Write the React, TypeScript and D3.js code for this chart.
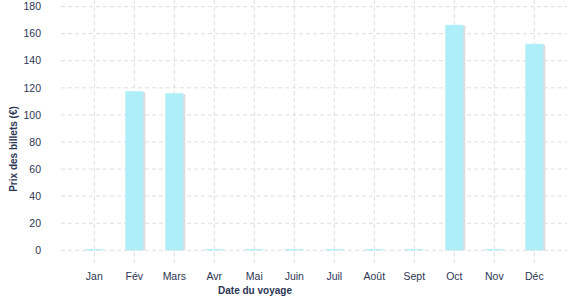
import React from "react";
import * as d3 from "d3";

const months = ["Jan", "Fév", "Mars", "Avr", "Mai", "Juin", "Juil", "Août", "Sept", "Oct", "Nov", "Déc"];
const prices = [0, 117.5, 116, 0, 0, 0, 0, 0, 0, 166.5, 0, 152.5];
const yTicks = [0, 20, 40, 60, 80, 100, 120, 140, 160, 180];

const W = 577;
const H = 300;
const textColor = "#2b3553";

export default function App() {
  const x = d3.scaleBand<string>().domain(months).range([74.3, 554.3]).paddingInner(0.55).paddingOuter(0.275);
  const step = x.step();
  const y = d3.scaleLinear().domain([0, 180]).range([250.3, 6.6]);
  const font = "'Liberation Sans', Arial, sans-serif";
  return (
    <svg width={W} height={H} style={{ position: "absolute", left: 0, top: 0 }} fontFamily={font}>
      {yTicks.map((t) => (
        <g key={t}>
          <line x1={61} x2={567} y1={y(t)} y2={y(t)} stroke="#dedede" strokeDasharray="4,3" />
          <text x={41} y={y(t)} dy="0.35em" textAnchor="end" fontSize={10.5} fill={textColor}>
            {t}
          </text>
        </g>
      ))}
      {months.map((m) => {
        const cx = (x(m) as number) + x.bandwidth() / 2;
        return (
          <g key={m}>
            <line x1={cx} x2={cx} y1={0} y2={263} stroke="#dedede" strokeDasharray="4,3" />
            <text x={cx} y={276} dy="0.35em" textAnchor="middle" fontSize={10.5} fill={textColor}>
              {m}
            </text>
          </g>
        );
      })}
      {months.map((m, i) => {
        const bx = (x(m) as number) + x.bandwidth() / 2 - 9;
        const top = Math.min(y(prices[i]), y(0) - 1.2);
        const h = y(0) - top;
        return (
          <g key={"b" + m}>
            {prices[i] > 0 && <rect x={bx + 2} y={top + 1} width={18} height={h - 1} fill="#dcdcdc" />}
            <rect x={bx} y={top} width={18} height={h} fill="#aeeef8" />
          </g>
        );
      })}
      <text
        transform={`translate(17,149) rotate(-90)`}
        textAnchor="middle"
        fontSize={10}
        fontWeight="bold"
        fill={textColor}
      >
        Prix des billets (€)
      </text>
      <text x={255} y={294} textAnchor="middle" fontSize={10} fontWeight="bold" fill={textColor}>
        Date du voyage
      </text>
    </svg>
  );
}
